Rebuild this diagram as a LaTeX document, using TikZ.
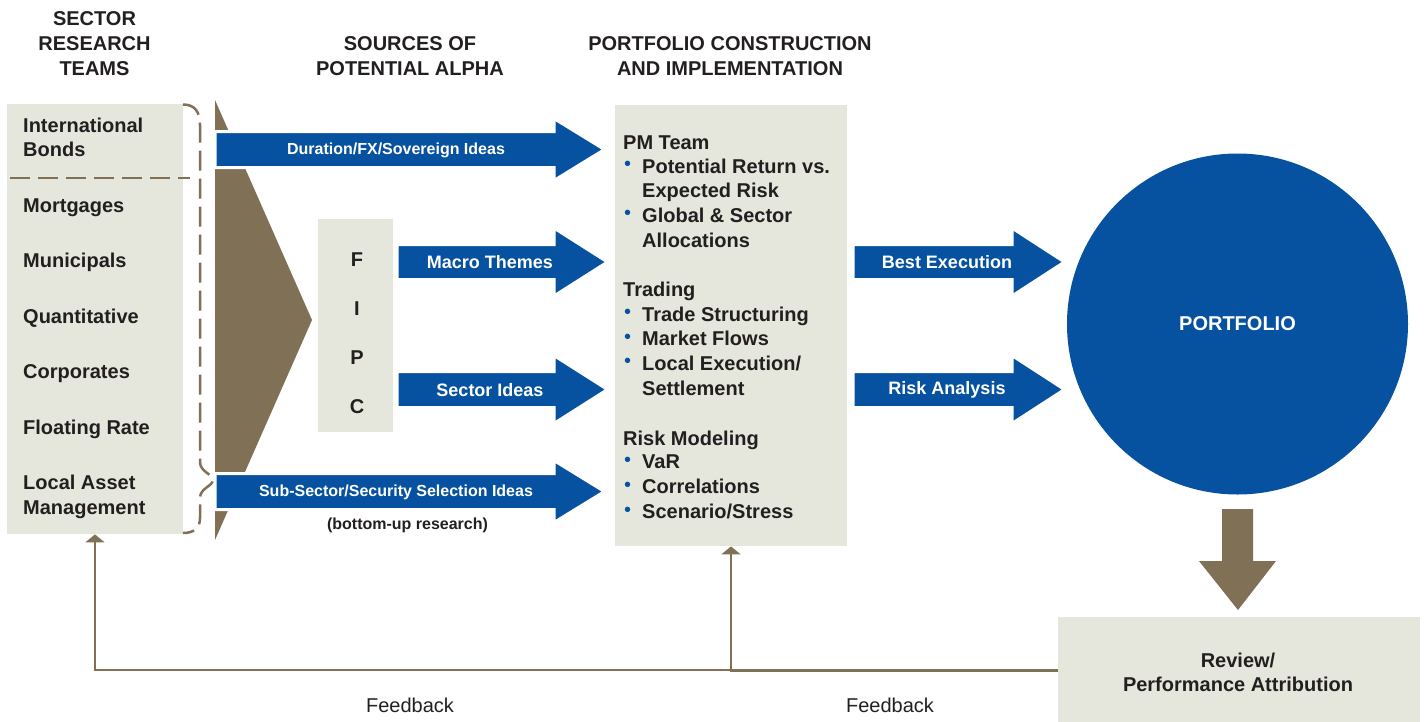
\documentclass[tikz,border=0pt]{standalone}
\usepackage{fontspec}
\setmainfont{Liberation Sans}
\usetikzlibrary{arrows.meta}
\definecolor{brn}{HTML}{7F7056}
\definecolor{blu}{HTML}{0652A0}
\definecolor{pale}{HTML}{E5E7DD}
\definecolor{ink}{HTML}{231F20}
\newcommand\FatArrow[6]{% xstart, xbodyend, xtip, ycenter, halfbody, halfhead
  \path[blockarrow] (#1,#4-#5-1.5) -- (#2,#4-#5-1.5) -- (#2,#4-#6-1.5) -- (#3+1.5,#4)
    -- (#2,#4+#6+1.5) -- (#2,#4+#5+1.5) -- (#1,#4+#5+1.5) -- cycle;}
\begin{document}
\begin{tikzpicture}[x=1pt,y=-1pt,
  box/.style={fill=pale, draw=none, inner sep=0, anchor=north west},
  hdr/.style={font=\bfseries\fontsize{20}{25}\selectfont, text=ink, align=center, inner sep=0},
  item/.style={font=\bfseries\fontsize{20}{24}\selectfont, text=ink, inner sep=0, anchor=base west},
  letter/.style={font=\bfseries\fontsize{20}{24}\selectfont, text=ink, inner sep=0},
  bul/.style={font=\fontsize{20}{20}\selectfont, text=blu, inner sep=0},
  blockarrow/.style={fill=blu, draw=white, line width=3pt, line join=miter},
  arrtxt/.style={font=\bfseries\fontsize{16}{18}\selectfont, text=white, inner sep=0},
  arrtxtbig/.style={font=\bfseries\fontsize{18}{20}\selectfont, text=white, inner sep=0},
  dashline/.style={draw=brn, line width=2.5pt, dash pattern=on 20pt off 8pt},
  fbthin/.style={draw=brn, line width=2pt},
  fbthick/.style={draw=brn, line width=3pt},
  fbtip/.style={-{Triangle[width=19pt,length=8pt]}},
  fbtxt/.style={font=\fontsize{20}{24}\selectfont, text=ink, inner sep=0}
]
\useasboundingbox (0,0) rectangle (1428,721);

% headers
\node[hdr] (h1) at (94.5,44) {SECTOR\\RESEARCH\\TEAMS};
\node[hdr] (h2) at (410,56.5) {SOURCES OF\\POTENTIAL ALPHA};
\node[hdr] (h3) at (730,56.5) {PORTFOLIO CONSTRUCTION\\AND IMPLEMENTATION};

% boxes
\node[box, minimum width=176pt, minimum height=430pt] (sectors) at (7,104) {};
\node[box, minimum width=232pt, minimum height=441pt] (pc) at (615,105) {};
\node[box, minimum width=75pt, minimum height=213pt] (fipc) at (318,219) {};
\node[box, minimum width=362pt, minimum height=110pt] (review) at (1058,617) {};

% sector items
\node[item] (ib1) at (23,132.2) {International};
\node[item] (ib2) at (23,156.5) {Bonds};
\node[item] (mtg) at (23,212.2) {Mortgages};
\node[item] (mun) at (23,267.9) {Municipals};
\node[item] (qnt) at (23,323.2) {Quantitative};
\node[item] (crp) at (23,378.9) {Corporates};
\node[item] (flt) at (23,434.9) {Floating Rate};
\node[item] (la1) at (23,489.9) {Local Asset};
\node[item] (la2) at (23,514.5) {Management};

% dashed separator and brace
\coordinate (sepL) at (10,178);
\coordinate (sepR) at (190,178);
\draw[dashline] (sepL) -- (sepR);
\draw[dashline] (183,104.5) .. controls (195,104.5) and (200,112) .. (200,125)
  -- (200,462) .. controls (200,472) and (213,474) .. (213,480)
  .. controls (213,486) and (200,488) .. (200,498)
  -- (200,518) .. controls (200,528) and (194,533) .. (183,533);

% brown chevron
\fill[brn] (215,100) -- (312,320) -- (215,540) -- cycle;

% blue arrows
\FatArrow{215}{554}{603}{149.5}{16.5}{29.5}
\FatArrow{397}{554}{606}{262}{16}{32.5}
\FatArrow{397}{554}{606}{389.5}{16.5}{32.5}
\FatArrow{215}{554}{603}{491.5}{16.5}{29.5}
\FatArrow{853}{1012}{1063}{262}{16}{32.5}
\FatArrow{853}{1012}{1063}{389.5}{16.5}{32.5}

\node[arrtxt] (dur) at (396,150) {Duration/FX/Sovereign Ideas};
\node[arrtxtbig] (mac) at (490,262) {Macro Themes};
\node[arrtxtbig] (sec) at (490,390) {Sector Ideas};
\node[arrtxt] (sub) at (396,492) {Sub-Sector/Security Selection Ideas};
\node[font=\bfseries\fontsize{16}{18}\selectfont, text=ink, inner sep=0] (bu) at (407.5,525) {(bottom-up research)};
\node[arrtxtbig] (bex) at (947,262) {Best Execution};
\node[arrtxtbig] (ran) at (947,390) {Risk Analysis};

% FIPC
\node[letter] (lf) at (357,260) {F};
\node[letter] (li) at (357,309) {I};
\node[letter] (lp) at (357,358) {P};
\node[letter] (lc) at (357,407) {C};

% portfolio construction text
\node[item] (pm) at (623,149) {PM Team};
\node[item] (pm1) at (642,173) {Potential Return vs.};
\node[item] (pm1b) at (642,197.7) {Expected Risk};
\node[item] (pm2) at (642,222.3) {Global \& Sector};
\node[item] (pm2b) at (642,247) {Allocations};
\node[item] (tr) at (623,296.3) {Trading};
\node[item] (tr1) at (642,321) {Trade Structuring};
\node[item] (tr2) at (642,345.7) {Market Flows};
\node[item] (tr3) at (642,370.3) {Local Execution/};
\node[item] (tr3b) at (642,395) {Settlement};
\node[item] (rm) at (623,445.3) {Risk Modeling};
\node[item] (rm1) at (642,468.7) {VaR};
\node[item] (rm2) at (642,493.7) {Correlations};
\node[item] (rm3) at (642,518.7) {Scenario/Stress};
\foreach \yy/\nm in {166/b1,215.3/b2,314/b3,338.7/b4,363.3/b5,461.7/b6,486.7/b7,511.7/b8}
  \node[bul] (\nm) at (627.5,\yy) {•};

% portfolio circle
\node[circle, fill=blu, minimum size=341pt, inner sep=0, text=white,
      font=\bfseries\fontsize{20}{24}\selectfont] (port) at (1237.5,324) {PORTFOLIO};

% down arrow
\fill[brn] (1222,509) -- (1253,509) -- (1253,561) -- (1276,561) -- (1238,610)
  -- (1199,561) -- (1222,561) -- cycle;

% review text
\node[font=\bfseries\fontsize{20}{24}\selectfont, text=ink, align=center, inner sep=0]
  (revtxt) at (1238,672) {Review/\\Performance Attribution};

% feedback
\coordinate (junc) at (731,670);
\coordinate (fbL) at (95,670);
\draw[fbthick] (junc -| review.west) -- ([xshift=-1pt]junc);
\draw[fbthin, fbtip] (junc) -- (fbL) -- (fbL |- sectors.south);
\draw[fbthin, fbtip] (junc) -- (junc |- pc.south);
\node[fbtxt] (fb1) at (410,705) {Feedback};
\node[fbtxt] (fb2) at (890,705) {Feedback};
\end{tikzpicture}
\end{document}
